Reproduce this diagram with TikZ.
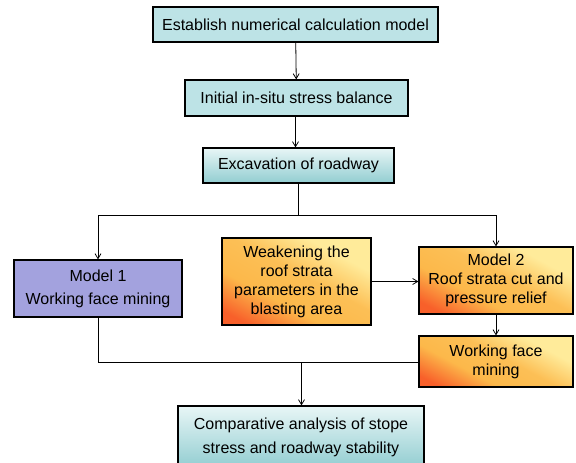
\documentclass[tikz,border=0pt]{standalone}
\usepackage{fontspec}
\usetikzlibrary{arrows.meta}
\setmainfont{Liberation Sans}
\definecolor{cyanbox}{HTML}{BDE3E6}
\definecolor{cyanlight}{HTML}{E8F6F6}
\definecolor{cyandark}{HTML}{92CDD1}
\definecolor{lavender}{HTML}{A3A2DE}
\definecolor{orangetop}{HTML}{FFEB9A}
\definecolor{orangemid}{HTML}{FCB84A}
\definecolor{orangelow}{HTML}{F8602A}
\pgfdeclareverticalshading{orangeshade}{100bp}{color(0bp)=(orangelow); color(22bp)=(orangelow);
  color(38bp)=(orangemid); color(54bp)=(orangemid!85!orangetop); color(70bp)=(orangetop);
  color(100bp)=(orangetop)}
\tikzset{
  stepbox/.style={draw=black, line width=1.2pt, align=center, inner sep=0pt,
    font=\fontsize{16}{19}\selectfont},
  cyanstep/.style={stepbox, fill=cyanbox},
  cyanshade/.style={stepbox, top color=cyanlight, bottom color=cyandark},
  orangestep/.style={stepbox, shading=orangeshade, shading angle=-28},
  flow/.style={-{Straight Barb[length=5pt, width=6pt]}, line width=0.8pt}
}
\begin{document}
\begin{tikzpicture}[x=1pt, y=-1pt]
  \useasboundingbox (0,0) rectangle (576,463);

  % top chain
  \node[cyanstep, minimum width=285pt, minimum height=35pt] (model) at (295.5,24.5)
    {Establish numerical calculation model};
  \node[cyanstep, minimum width=223pt, minimum height=36pt] (balance) at (296.5,98)
    {Initial in-situ stress balance};
  \node[cyanshade, minimum width=191pt, minimum height=35pt] (roadway) at (298.5,165.5)
    {Excavation of roadway};

  % two models
  \node[stepbox, fill=lavender, minimum width=168pt, minimum height=57pt] (modelA) at (98,288.5)
    {Model 1\\[4pt]Working face mining};
  \node[orangestep, minimum width=149pt, minimum height=87pt] (weaken) at (296.5,281.5)
    {Weakening the\\roof strata\\parameters in the\\blasting area};
  \node[orangestep, minimum width=154pt, minimum height=67pt] (modelB) at (496,280.5)
    {Model 2\\Roof strata cut and\\pressure relief};
  \node[orangestep, minimum width=154pt, minimum height=51pt] (mining) at (496,361.5)
    {Working face\\mining};

  % result
  \node[cyanshade, minimum width=246pt, minimum height=62pt] (compare) at (301,437)
    {Comparative analysis of stope\\[5pt]stress and roadway stability};

  \coordinate (split) at (298.5,215.5);
  \coordinate (merge) at (301.5,362.5);

  \draw[flow] (model) -- (balance);
  \draw[flow] (balance.south -| model) -- (roadway.north -| model);
  \draw[line width=0.8pt] (roadway) -- (split);
  \draw[flow] (split) -| (modelA);
  \draw[flow] (split) -| (modelB);
  \draw[flow] (weaken) -- (modelB.west |- weaken);
  \draw[flow] (modelB) -- (mining);
  \draw[line width=0.8pt] (modelA) |- (merge) -- (mining.west |- merge);
  \draw[flow] (merge) -- (compare.north -| merge);

\end{tikzpicture}
\end{document}
